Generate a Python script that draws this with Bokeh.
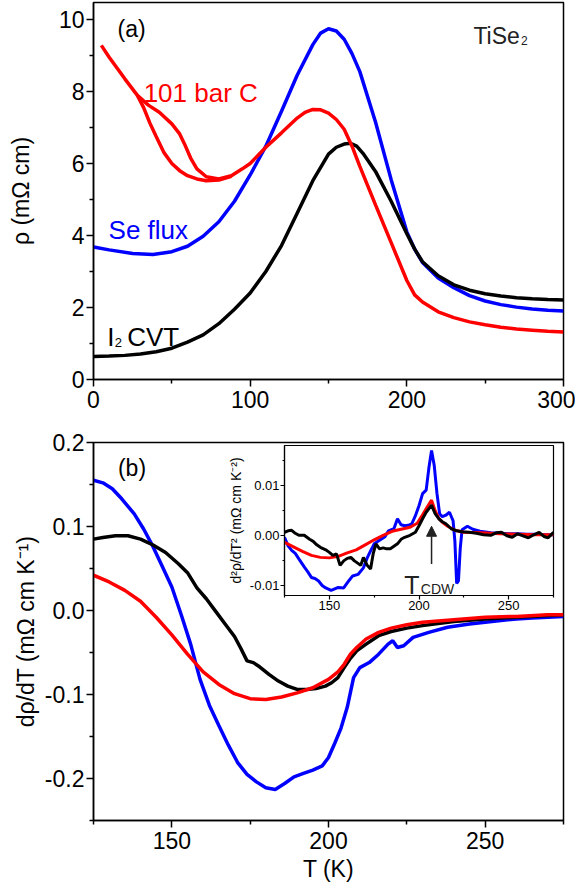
from bokeh.plotting import figure
from bokeh.models import FixedTicker, NumeralTickFormatter, Label, Arrow, NormalHead, Range1d
from bokeh.layouts import column
from bokeh.embed import file_html
from bokeh.resources import INLINE

FONT = "Liberation Sans"

# ---- panel (a): resistivity vs T
blue_a_T = [0, 10, 25, 38, 50, 60, 70, 80, 90, 100, 110, 120, 130, 140, 145, 150, 155, 160, 165, 170, 180, 190,
            200, 205, 210, 220, 230, 240, 250, 260, 270, 280, 290, 300]
blue_a = [3.68, 3.60, 3.50, 3.47, 3.55, 3.70, 3.98, 4.38, 4.95, 5.68, 6.48, 7.45, 8.45, 9.30, 9.62, 9.74, 9.68,
          9.45, 9.05, 8.55, 7.15, 5.55, 4.10, 3.62, 3.25, 2.82, 2.55, 2.33, 2.18, 2.08, 2.01, 1.96, 1.92, 1.90]

red_a_T = [5, 10, 15, 20, 28, 35, 42, 50, 55, 58, 62, 66, 72, 80, 88, 95, 100, 110, 120, 130, 135, 140, 145, 150,
           155, 160, 165, 170, 180, 190, 200, 205, 210, 220, 230, 240, 250, 260, 270, 280, 290, 300]
red_a = [9.28, 8.95, 8.65, 8.35, 7.89, 7.62, 7.42, 7.10, 6.82, 6.55, 6.15, 5.85, 5.63, 5.57, 5.66, 5.85, 6.00,
         6.45, 6.85, 7.26, 7.42, 7.50, 7.49, 7.40, 7.22, 6.95, 6.48, 5.92, 4.85, 3.80, 2.75, 2.35, 2.15, 1.88,
         1.72, 1.60, 1.52, 1.45, 1.40, 1.37, 1.34, 1.32]
# second (cooling) branch of the red curve at low T
red_a2_T = [28, 32, 36, 40, 45, 50, 55, 60, 66, 72, 80, 88]
red_a2 = [7.89, 7.55, 7.12, 6.75, 6.30, 6.00, 5.80, 5.66, 5.57, 5.52, 5.54, 5.64]

black_a_T = [0, 10, 20, 30, 40, 50, 60, 70, 80, 90, 100, 110, 120, 130, 140, 150, 155, 160, 164, 168, 172, 180,
             190, 200, 205, 210, 220, 230, 240, 250, 260, 270, 280, 290, 300]
black_a = [0.64, 0.65, 0.67, 0.71, 0.77, 0.87, 1.04, 1.24, 1.55, 1.95, 2.40, 3.00, 3.72, 4.62, 5.52, 6.26, 6.45,
           6.54, 6.56, 6.48, 6.28, 5.78, 4.95, 4.05, 3.62, 3.27, 2.88, 2.63, 2.48, 2.38, 2.32, 2.27, 2.24, 2.22,
           2.21]

# ---- panel (b): d rho / dT
blue_b_T = [125, 128, 131, 134, 138, 141, 144, 147, 150, 153, 156, 159, 162, 165, 168, 171, 174, 177, 180, 183,
            186, 189, 192, 195, 198, 200, 202, 204, 206, 208, 210, 213, 216, 219, 220.5, 222, 224, 227, 232, 238,
            245, 250, 255, 260, 265, 270, 275]
blue_b = [0.155, 0.152, 0.145, 0.133, 0.115, 0.097, 0.076, 0.052, 0.028, -0.005, -0.040, -0.082, -0.113, -0.137,
          -0.160, -0.181, -0.195, -0.204, -0.211, -0.213, -0.206, -0.198, -0.194, -0.190, -0.185, -0.175, -0.158,
          -0.140, -0.115, -0.080, -0.068, -0.062, -0.052, -0.040, -0.036, -0.044, -0.042, -0.032, -0.026, -0.020,
          -0.016, -0.014, -0.012, -0.010, -0.009, -0.008, -0.007]

black_b_T = [125, 128, 132, 136, 140, 144, 148, 152, 155, 158, 161, 164, 167, 170, 172, 174, 176, 178, 181, 184,
             187, 190, 193, 196, 199, 201, 203, 205, 207, 209, 212, 216, 220, 225, 230, 240, 250, 260, 270, 275]
black_b = [0.085, 0.087, 0.089, 0.089, 0.085, 0.078, 0.069, 0.056, 0.045, 0.027, 0.014, -0.001, -0.016, -0.031,
           -0.045, -0.060, -0.062, -0.067, -0.076, -0.084, -0.090, -0.094, -0.094, -0.093, -0.090, -0.086,
           -0.080, -0.068, -0.057, -0.048, -0.040, -0.030, -0.025, -0.021, -0.018, -0.013, -0.010, -0.008,
           -0.006, -0.005]

red_b_T = [125, 130, 135, 140, 145, 150, 155, 160, 165, 170, 175, 180, 185, 190, 195, 200, 203, 205, 207, 209,
           212, 216, 220, 225, 230, 240, 250, 260, 270, 275]
red_b = [0.042, 0.034, 0.024, 0.011, -0.008, -0.029, -0.052, -0.073, -0.088, -0.099, -0.105, -0.106, -0.103,
         -0.098, -0.092, -0.082, -0.073, -0.064, -0.052, -0.044, -0.034, -0.026, -0.021, -0.017, -0.014, -0.011,
         -0.008, -0.007, -0.005, -0.005]

# ---- inset: d2 rho / dT2
blue_i_T = [125, 127, 129, 131, 133, 136, 138, 140, 142, 144, 146, 148, 151, 153, 155, 158, 161, 163, 166, 169,
            171, 173, 175, 178, 181, 183, 186, 188, 190, 192, 194, 196, 198, 200, 202, 204, 205.5, 207, 208.5,
            210, 211.5, 213, 215, 217, 219, 220, 221, 222, 223, 224, 227, 230, 234, 240, 245, 250, 255, 260, 265,
            270, 275]
blue_i = [-0.0003, -0.0020, -0.0029, -0.0035, -0.0046, -0.0062, -0.0072, -0.0083, -0.0085, -0.0090, -0.0099,
          -0.0104, -0.0109, -0.0106, -0.0103, -0.0104, -0.0089, -0.0080, -0.0077, -0.0064, -0.0045, -0.0030,
          -0.0016, -0.0009, -0.0002, 0.0010, 0.0014, 0.0034, 0.0022, 0.0020, 0.0021, 0.0024, 0.0040, 0.0060,
          0.0084, 0.0091, 0.0135, 0.0170, 0.0140, 0.0085, 0.0044, 0.0038, 0.0041, 0.0047, 0.0030, -0.0010,
          -0.0095, -0.0090, -0.0025, 0.0012, 0.0019, 0.0013, 0.0009, 0.0006, 0.0005, 0.0004, 0.0004, 0.0003,
          0.0003, 0.0002, 0.0002]

red_i_T = [125, 130, 135, 140, 145, 150, 155, 160, 165, 170, 175, 180, 185, 190, 195, 199, 202, 205, 207, 209,
           211, 213, 216, 220, 225, 235, 245, 255, 265, 275]
red_i = [-0.0013, -0.0022, -0.0031, -0.0039, -0.0043, -0.0044, -0.0041, -0.0034, -0.0028, -0.0018, -0.0008,
         0.0001, 0.0009, 0.0013, 0.0017, 0.0025, 0.0042, 0.0060, 0.0071, 0.0050, 0.0035, 0.0027, 0.0019, 0.0011,
         0.0007, 0.0006, 0.0004, 0.0003, 0.0002, 0.0002]

black_i_T = [125, 127, 129, 131, 133, 136, 139, 141, 143, 145, 148, 150, 152, 154, 156, 158, 160, 162, 164, 166,
             167.5, 169, 171, 173, 174.5, 176, 178, 180, 182, 184, 186, 188, 190, 192, 195, 198, 200, 202, 204,
             207, 209, 211, 213, 215, 218, 221, 224, 228, 232, 236, 240, 243, 246, 249, 252, 255, 258, 261, 264,
             267, 270, 272, 275]
black_i = [0.0007, 0.0010, 0.0011, 0.0005, 0.0001, 0.0001, -0.0007, -0.0011, -0.0018, -0.0023, -0.0028, -0.0033,
           -0.0039, -0.0036, -0.0059, -0.0050, -0.0045, -0.0043, -0.0050, -0.0055, -0.0059, -0.0043, -0.0058,
           -0.0066, -0.0035, -0.0016, -0.0026, -0.0024, -0.0026, -0.0026, -0.0021, -0.0016, -0.0007, -0.0003,
           0.0001, 0.0007, 0.0020, 0.0034, 0.0047, 0.0061, 0.0044, 0.0034, 0.0028, 0.0024, 0.0014, 0.0010,
           0.0008, 0.0007, 0.0005, 0.0002, 0.0001, 0.0006, 0.0007, 0.0000, -0.0003, 0.0004, 0.0000, -0.0004,
           0.0002, 0.0007, -0.0002, -0.0004, 0.0007]

T_CDW = 207


def dress(p, xt, xm, yt, ym, fs, tout, mout, lw, fmt=None):
    p.xgrid.visible = False
    p.ygrid.visible = False
    p.outline_line_color = "black"
    p.outline_line_width = lw
    p.xaxis.ticker = FixedTicker(ticks=xt, minor_ticks=xm)
    p.yaxis.ticker = FixedTicker(ticks=yt, minor_ticks=ym)
    if fmt:
        p.yaxis.formatter = NumeralTickFormatter(format=fmt)
    for ax in p.xaxis + p.yaxis:
        ax.axis_line_width = lw
        ax.axis_line_color = "black"
        ax.major_tick_line_color = "black"
        ax.minor_tick_line_color = "black"
        ax.major_tick_line_width = lw
        ax.minor_tick_line_width = lw
        ax.major_tick_in = 0
        ax.minor_tick_in = 0
        ax.major_tick_out = tout
        ax.minor_tick_out = mout
        ax.major_label_text_font = FONT
        ax.major_label_text_font_size = fs
        ax.major_label_text_color = "black"
        ax.axis_label_text_font = FONT
        ax.axis_label_text_font_size = fs
        ax.axis_label_text_font_style = "normal"
        ax.axis_label_text_color = "black"


def lab(p, x, y, text, size, color="black", dx=0, dy=0):
    p.add_layout(Label(x=x, y=y, text=text, x_offset=dx, y_offset=dy, text_font=FONT,
                       text_font_size=size, text_color=color, text_baseline="alphabetic"))


pa = figure(width=575, height=430, x_range=Range1d(0, 300), y_range=Range1d(0, 10.47),
            output_backend="svg", toolbar_location=None,
            min_border_left=93, min_border_right=12, min_border_top=2, min_border_bottom=51)
dress(pa, [0, 100, 200, 300], [50, 150, 250], [0, 2, 4, 6, 8, 10], [1, 3, 5, 7, 9], "23px", 7, 4, 1.5)
pa.yaxis.axis_label = "ρ (mΩ cm)"
pa.yaxis.axis_label_standoff = 22
pa.xaxis.major_label_standoff = 4
pa.yaxis.major_label_standoff = 2
pa.line(blue_a_T, blue_a, line_color="#0000ff", line_width=3.5)
pa.line(black_a_T, black_a, line_color="black", line_width=3.5)
pa.line(red_a_T, red_a, line_color="#ff0000", line_width=3.5)
pa.line(red_a2_T, red_a2, line_color="#ff0000", line_width=3.5)
lab(pa, 15.3, 9.74, "(a)", "23px")
lab(pa, 32, 7.95, "101 bar C", "26px", "#ff0000")
lab(pa, 9.6, 4.14, "Se flux", "26px", "#0000ff")
lab(pa, 8.7, 1.18, "I", "26px")
lab(pa, 8.7, 1.18, "2", "13px", dx=7.5, dy=-5)
lab(pa, 8.7, 1.18, "CVT", "26px", dx=20)
lab(pa, 242.5, 9.53, "TiSe", "23px", "#222222")
lab(pa, 242.5, 9.53, "2", "12px", "#222222", dx=47.5, dy=-4)

pb = figure(width=575, height=460, x_range=Range1d(125, 275), y_range=Range1d(-0.25, 0.2),
            output_backend="svg", toolbar_location=None,
            min_border_left=93, min_border_right=12, min_border_top=12, min_border_bottom=70)
dress(pb, [150, 200, 250], [125, 175, 225, 275], [-0.2, -0.1, 0.0, 0.1, 0.2],
      [-0.25, -0.15, -0.05, 0.05, 0.15], "23px", 7, 4, 1.5, "0.0")
pb.yaxis.axis_label = "dρ/dT (mΩ cm K⁻¹)"
pb.xaxis.axis_label = "T (K)"
pb.yaxis.axis_label_standoff = 3
pb.xaxis.axis_label_standoff = 4
pb.xaxis.major_label_standoff = 4
pb.yaxis.major_label_standoff = 2
pb.line(blue_b_T, blue_b, line_color="#0000ff", line_width=3.5)
pb.line(black_b_T, black_b, line_color="black", line_width=3.5)
pb.line(red_b_T, red_b, line_color="#ff0000", line_width=3.5)
lab(pb, 132.8, 0.170, "(b)", "23px")

# inset overlaid on panel (b); its side borders line up with the column's (93 / 12)
pi = figure(width=374, height=174, x_range=Range1d(125, 275), y_range=Range1d(-0.0119, 0.018),
            output_backend="svg", toolbar_location=None,
            min_border_left=93, min_border_right=12, min_border_top=2, min_border_bottom=22,
            margin=(-447, 0, 0, 191))
pi.border_fill_alpha = 0
dress(pi, [150, 200, 250], [125, 175, 225, 275], [-0.01, 0.0, 0.01], [-0.005, 0.005, 0.015],
      "13px", 4, 2, 1.2, "0.00")
for ax in pi.xaxis + pi.yaxis:
    ax.major_label_standoff = 1
pi.yaxis.axis_label = "d²ρ/dT² (mΩ cm K⁻²)"
pi.yaxis.axis_label_text_font_size = "14px"
pi.yaxis.axis_label_standoff = 3
pi.line(blue_i_T, blue_i, line_color="#0000ff", line_width=3)
pi.line(red_i_T, red_i, line_color="#ff0000", line_width=3)
pi.line(black_i_T, black_i, line_color="black", line_width=3)
pi.add_layout(Arrow(end=NormalHead(size=10, fill_color="#222222", line_color="#222222"),
                    x_start=T_CDW, y_start=-0.0056, x_end=T_CDW, y_end=0.0019,
                    line_color="#222222", line_width=1.5))
lab(pi, 191.8, -0.0099, "T", "25px", "#222222")
lab(pi, 191.8, -0.0099, "CDW", "14px", "#222222", dx=16.5, dy=-4)

p = column(pa, pb, pi)
open("out.html", "w").write(file_html(p, INLINE))
